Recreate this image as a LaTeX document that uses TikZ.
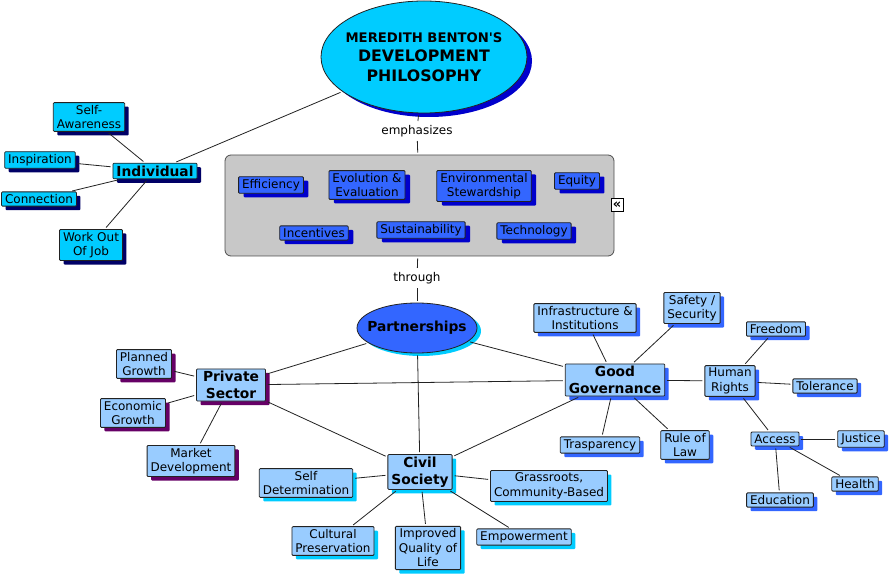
\documentclass[tikz,border=0pt]{standalone}
\usepackage{fontspec}
\setmainfont{DejaVu Sans}[Ligatures=TeXOff]
\usetikzlibrary{shapes.geometric,shadows}
\definecolor{cyanf}{HTML}{00CCFF}
\definecolor{navysh}{HTML}{000066}
\definecolor{royal}{HTML}{3366FF}
\definecolor{deepbl}{HTML}{0000CC}
\definecolor{lightb}{HTML}{99CCFF}
\definecolor{purp}{HTML}{660066}
\definecolor{edgec}{HTML}{222222}
\definecolor{contf}{HTML}{C8C8C8}
\newcommand\smtxt{\fontsize{12}{14.5}\selectfont}
\newcommand\bigtxt{\fontsize{13.8}{16.5}\selectfont\bfseries}
\tikzset{
 base/.style={draw=edgec, line width=0.8pt, rounded corners=1pt, align=center,
   inner xsep=3.5pt, inner ysep=2.5pt, font=\smtxt},
 indiv/.style={base, fill=cyanf, drop shadow={shadow xshift=4pt, shadow yshift=-4pt, fill=navysh, opacity=1}},
 itembox/.style={base, fill=royal, drop shadow={shadow xshift=5pt, shadow yshift=-4pt, fill=deepbl, opacity=1}},
 priv/.style={base, fill=lightb, drop shadow={shadow xshift=4pt, shadow yshift=-4pt, fill=purp, opacity=1}},
 civ/.style={base, fill=lightb, drop shadow={shadow xshift=4pt, shadow yshift=-4pt, fill=cyanf, opacity=1}},
 gov/.style={base, fill=lightb, drop shadow={shadow xshift=4pt, shadow yshift=-4pt, fill=royal, opacity=1}},
 mainb/.style={font=\bigtxt},
 link/.style={draw=edgec, line width=0.8pt, shorten <=2pt, shorten >=2pt},
 lbl/.style={font=\smtxt, inner sep=2pt}
}
\begin{document}
\begin{tikzpicture}[x=1pt,y=-1pt]
\useasboundingbox (0,0) rectangle (892,577);
\fill[white] (0,0) rectangle (892,577);

% title
\node[ellipse, draw=edgec, line width=0.8pt, fill=cyanf, minimum width=206pt, minimum height=112pt,
  inner xsep=-13pt, inner ysep=0pt, align=center, font=\fontsize{15.8}{19.5}\selectfont\bfseries,
  drop shadow={shadow xshift=5pt, shadow yshift=-4pt, fill=deepbl, opacity=1}] (title) at (424,57)
  {{\fontsize{13.2}{19.5}\selectfont MEREDITH BENTON'S}\\DEVELOPMENT\\PHILOSOPHY};

\node[lbl] (emph) at (417,131) {emphasizes};

% container
\node[draw=edgec!80, line width=0.8pt, fill=contf, rounded corners=6pt, minimum width=389pt, minimum height=101pt, inner sep=0pt] (cont) at (419.5,205.5) {};
\node[draw=black, fill=white, line width=0.6pt, inner sep=0pt, minimum width=12pt, minimum height=13pt, font=\fontsize{13}{13}\selectfont\bfseries] (coll) at (617,205) {«};

\node[itembox] (eff) at (271,185) {Efficiency};
\node[itembox] (evo) at (367,185) {Evolution \&\\Evaluation};
\node[itembox] (env) at (484,186) {Environmental\\Stewardship};
\node[itembox] (equ) at (577,181) {Equity};
\node[itembox] (inc) at (314,233) {Incentives};
\node[itembox] (sus) at (421,230) {Sustainability};
\node[itembox] (tec) at (534,231) {Technology};

\node[lbl] (thru) at (417,278) {through};

\node[ellipse, draw=edgec, line width=0.8pt, fill=royal, minimum width=120pt, minimum height=50pt,
  inner xsep=-8pt, inner ysep=0pt,
  font=\bigtxt, drop shadow={shadow xshift=4pt, shadow yshift=-3pt, fill=cyanf, opacity=1}] (part) at (417,328) {Partnerships};

% individual
\node[indiv, mainb] (ind) at (155,171) {Individual};
\node[indiv] (selfa) at (89,117) {Self-\\Awareness};
\node[indiv] (insp) at (40,160) {Inspiration};
\node[indiv] (conn) at (39,199) {Connection};
\node[indiv] (work) at (91,245) {Work Out\\Of Job};

% private sector
\node[priv, mainb, minimum width=69pt] (priv) at (231,385) {Private\\Sector};
\node[priv] (plan) at (144,364) {Planned\\Growth};
\node[priv] (econ) at (133,413) {Economic\\Growth};
\node[priv] (mark) at (191,461) {Market\\Development};

% civil society
\node[civ, mainb] (civ) at (420,472) {Civil\\Society};
\node[civ] (sdet) at (306,483) {Self\\Determination};
\node[civ] (cult) at (333,541) {Cultural\\Preservation};
\node[civ] (impr) at (428,548) {Improved\\Quality of\\Life};
\node[civ] (empw) at (524,537) {Empowerment};
\node[civ] (gras) at (549,486) {Grassroots,\\Community-Based};

% good governance
\node[gov, mainb] (gov) at (615,380) {Good\\Governance};
\node[gov] (infr) at (585,318) {Infrastructure \&\\Institutions};
\node[gov] (safe) at (692,308) {Safety /\\Security};
\node[gov] (tras) at (600,445) {Trasparency};
\node[gov] (rule) at (685,445) {Rule of\\Law};
\node[gov] (hum) at (730,381) {Human\\Rights};
\node[gov] (free) at (776,329) {Freedom};
\node[gov] (tole) at (825,386) {Tolerance};
\node[gov] (acc) at (775,439) {Access};
\node[gov] (just) at (861,439) {Justice};
\node[gov] (heal) at (855,484) {Health};
\node[gov] (edu) at (780,500) {Education};

% connectors
\draw[link] (title) -- (emph);
\draw[link] (emph) -- (cont);
\draw[link] (cont) -- (thru);
\draw[link] (thru) -- (part);

\draw[link] (ind) -- (title);
\draw[link] (ind) -- (selfa);
\draw[link] (ind) -- (insp);
\draw[link] (ind) -- (conn);
\draw[link] (ind) -- (work);

\draw[link] (part) -- (priv);
\draw[link] (part) -- (civ);
\draw[link] (part) -- (gov);
\draw[link] (priv) -- (gov);
\draw[link] (priv) -- (civ);
\draw[link] (civ) -- (gov);

\draw[link] (priv) -- (plan);
\draw[link] (priv) -- (econ);
\draw[link] (priv) -- (mark);

\draw[link] (civ) -- (sdet);
\draw[link] (civ) -- (cult);
\draw[link] (civ) -- (impr);
\draw[link] (civ) -- (empw);
\draw[link] (civ) -- (gras);

\draw[link] (gov) -- (infr);
\draw[link] (gov) -- (safe);
\draw[link] (gov) -- (tras);
\draw[link] (gov) -- (rule);
\draw[link] (gov) -- (hum);

\draw[link] (hum) -- (free);
\draw[link] (hum) -- (tole);
\draw[link] (hum) -- (acc);
\draw[link] (acc) -- (just);
\draw[link] (acc) -- (heal);
\draw[link] (acc) -- (edu);
\end{tikzpicture}
\end{document}
